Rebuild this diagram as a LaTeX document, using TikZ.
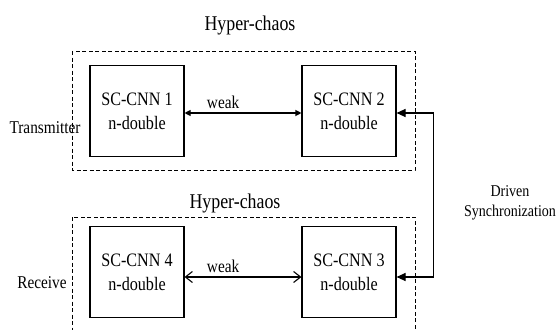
\documentclass[tikz,border=0pt]{standalone}
\usepackage{fontspec}
\setmainfont[FakeStretch=0.85]{Liberation Serif}
\usetikzlibrary{positioning,arrows.meta}

\begin{document}
\begin{tikzpicture}[x=1pt,y=-1pt,
  cnn/.style={draw, line width=1.1pt, minimum width=94pt, minimum height=91pt,
    inner sep=0pt, align=center, font=\fontsize{19}{24}\selectfont},
  group/.style={draw, line width=0.9pt, dash pattern=on 4pt off 2.5pt},
  lbl/.style={font=\fontsize{18}{20}\selectfont},
  weaklink/.style={line width=1.1pt},
  drive/.style={line width=1.1pt, {Triangle[length=9pt,width=8pt]}-{Triangle[length=9pt,width=8pt]}}]
  \useasboundingbox (0,0) rectangle (556,329);
  \clip (0,0) rectangle (556,329);
  % dashed groups
  \draw[group] (72,51) rectangle (415,170);
  \draw[group] (72,217) rectangle (415,345);
  \node[font=\fontsize{21}{24}\selectfont] (title1) at (250,25) {Hyper-chaos};
  \node[font=\fontsize{21}{24}\selectfont] (title2) at (235,203) {Hyper-chaos};
  % oscillators
  \node[cnn] (cnn1) at (137,111) {SC-CNN 1\\n-double};
  \node[cnn] (cnn2) at (349,111) {SC-CNN 2\\n-double};
  \node[cnn] (cnn4) at (137,272) {SC-CNN 4\\n-double};
  \node[cnn] (cnn3) at (349,272) {SC-CNN 3\\n-double};
  % side labels
  \node[lbl] (tx) at (45,128) {Transmitter};
  \node[lbl] (rx) at (42,283) {Receive};
  \node[font=\fontsize{16.5}{20}\selectfont, align=center] (sync) at (510,203) {Driven\\Synchronization};
  % couplings
  \draw[weaklink, {Triangle[length=6pt,width=6pt]}-{Triangle[length=6pt,width=6pt]}]
    ([yshift=-2pt]cnn1.east) -- node[lbl, pos=0.33, above] {weak} ([yshift=-2pt]cnn2.west);
  \draw[weaklink, {Straight Barb[length=7pt,width=11pt]}-{Straight Barb[length=7pt,width=11pt]}]
    ([yshift=-5pt]cnn4.east) -- node[lbl, pos=0.33, above] {weak} ([yshift=-5pt]cnn3.west);
  \draw[drive] ([yshift=-2pt]cnn2.east) -- ++(37,0) |- ([yshift=-5pt]cnn3.east);
\end{tikzpicture}
\end{document}
